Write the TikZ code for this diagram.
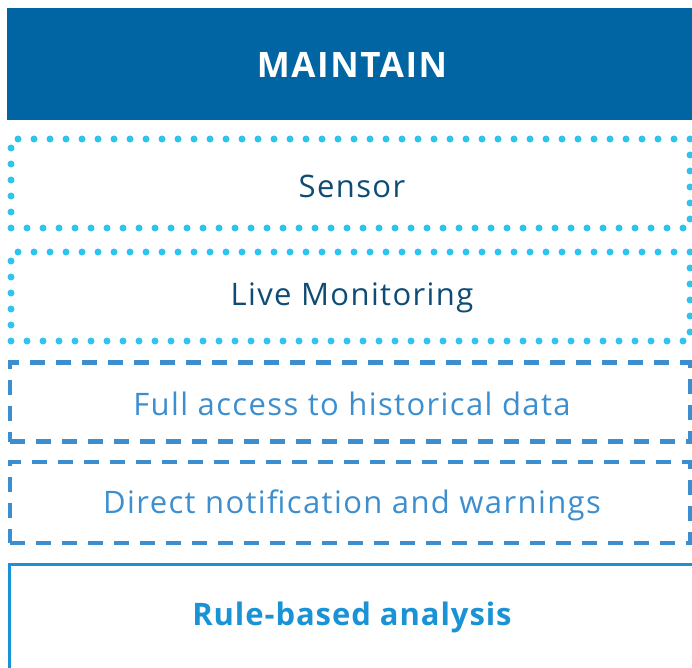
\documentclass[tikz,border=0pt]{standalone}
\usepackage{fontspec}
\setmainfont{Open Sans}
\definecolor{maintainblue}{HTML}{0065A2}
\definecolor{dotcyan}{HTML}{2EC4F0}
\definecolor{dashblue}{HTML}{3D8ECF}
\definecolor{ruleblue}{HTML}{1A93D6}
\definecolor{navytext}{HTML}{0E4C75}
\begin{document}
\begin{tikzpicture}[x=1pt,y=-1pt,
   bar/.style={fill=maintainblue,minimum width=700pt,minimum height=112pt},
   dotbox/.style={draw=dotcyan,line width=7pt,line cap=round,dash pattern=on 0pt off 16pt,
      minimum width=679pt,minimum height=89pt},
   dashbox/.style={draw=dashblue,line width=4.5pt,dash pattern=on 15pt off 11pt,
      minimum width=680pt,minimum height=79pt},
   rulebox/.style={draw=ruleblue,line width=2.5pt,minimum width=700pt,minimum height=108pt},
   headtext/.style={text=white,font=\bfseries\fontsize{35}{40}\selectfont\addfontfeatures{LetterSpace=4.5}},
   dottext/.style={text=navytext,font=\fontsize{31}{36}\selectfont\addfontfeatures{LetterSpace=4.5}},
   dashtext/.style={text=dashblue,font=\fontsize{31}{36}\selectfont\addfontfeatures{LetterSpace=4.5}},
   ruletext/.style={text=ruleblue,font=\bfseries\fontsize{31}{36}\selectfont\addfontfeatures{LetterSpace=3}}]
   \useasboundingbox (0,0) rectangle (692,667);
   \clip (0,0) rectangle (692,667);

   % header
   \node[bar,anchor=north west] (maintain) at (7,8) {};
   \node[headtext] (maintaintxt) at (352,65) {MAINTAIN};

   % dotted rows
   \node[dotbox] (sensor) at (350.5,183.5) {};
   \node[dottext] (sensortxt) at (352,186) {Sensor};
   \node[dotbox] (live) at (350.5,296.5) {};
   \node[dottext] (livetxt) at (352,298) {Live Monitoring};

   % dashed rows
   \node[dashbox] (history) at (350,402) {};
   \node[dashtext] (historytxt) at (352,404) {Full access to historical data};
   \node[dashbox,minimum height=81pt] (notify) at (350,502.5) {};
   \node[dashtext] (notifytxt) at (352,505) {Direct notification and warnings};

   % solid row
   \node[rulebox,anchor=north west] (rule) at (8,563) {};
   \node[ruletext] (ruletxt) at (352,617) {Rule-based analysis};
\end{tikzpicture}
\end{document}
